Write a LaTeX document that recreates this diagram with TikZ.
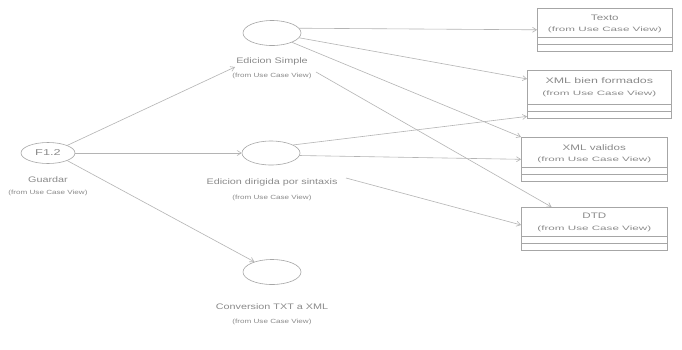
\documentclass[tikz,border=0pt]{standalone}
\usepackage{fontspec}
\setmainfont{Liberation Sans}
\usepackage{graphicx}
\usetikzlibrary{arrows.meta,shapes.geometric,calc}

% horizontally widened text, as the diagram tool prints it
\newcommand{\hstretch}[2]{\scalebox{#1}[1]{#2}}
\newcommand{\ucfromtxt}{\hstretch{1.35}{(from Use Case View)}}
\newcommand{\clsfromtxt}{\hstretch{1.85}{(from Use Case View)}}

\definecolor{ink}{HTML}{8A8A8A}
\definecolor{wire}{HTML}{B4B4B4}
\definecolor{outline}{HTML}{A6A6A6}

\begin{document}
\begin{tikzpicture}[x=1pt,y=-1pt,
  usecase/.style={ellipse,draw=outline,line width=0.6pt,inner sep=0pt,
    minimum width=58pt,minimum height=25pt},
  ucname/.style={text=ink,inner sep=0pt,font=\fontsize{8}{9}\selectfont},
  ucfrom/.style={text=ink,inner sep=0pt,font=\fontsize{6}{7}\selectfont},
  clsbox/.style={draw=outline,line width=0.6pt,anchor=north west,inner sep=0pt,
    minimum width=#1},
  clsname/.style={text=ink,inner sep=0pt,font=\fontsize{8}{9}\selectfont},
  clsfrom/.style={text=ink,inner sep=0pt,font=\fontsize{6.3}{7}\selectfont},
  compart/.style={draw=outline,line width=0.5pt},
  dep/.style={draw=wire,line width=0.6pt,
    -{Straight Barb[length=4pt,width=5pt]}}
]
\fill[white] (0,0) rectangle (682,349);
\useasboundingbox (0,0) rectangle (682,349);

% ---- use cases ----
\node[usecase,minimum width=54pt,minimum height=21pt] (f12) at (48,153)
  {\textcolor{ink}{\fontsize{8.5}{9}\selectfont\hstretch{1.5}{F1.2}}};
\node[ucname] (guardName) at (48,180) {\hstretch{1.35}{Guardar}};
\node[ucfrom] (guardFrom) at (48,193) {\ucfromtxt};

\node[usecase] (simple) at (272,33) {};
\node[ucname] (simpleName) at (272,61) {\hstretch{1.35}{Edicion Simple}};
\node[ucfrom] (simpleFrom) at (272,76) {\ucfromtxt};

\node[usecase,minimum height=24pt] (dirig) at (271,153) {};
\node[ucname] (dirigName) at (272,182) {\hstretch{1.35}{Edicion dirigida por sintaxis}};
\node[ucfrom] (dirigFrom) at (272,198) {\ucfromtxt};

\node[usecase] (conv) at (272,272) {};
\node[ucname] (convName) at (272,307) {\hstretch{1.35}{Conversion TXT a XML}};
\node[ucfrom] (convFrom) at (272,322) {\ucfromtxt};

% ---- classes ----
\node[clsbox=135pt,minimum height=43pt] (texto) at (537,8) {};
\node[clsname] (textoName) at ($(texto.north)+(0,10)$) {\hstretch{1.45}{Texto}};
\node[clsfrom] (textoFrom) at ($(texto.north)+(0,22)$) {\clsfromtxt};
\draw[compart] ($(texto.north west)+(0,29)$) -- ($(texto.north east)+(0,29)$);
\draw[compart] ($(texto.north west)+(0,36)$) -- ($(texto.north east)+(0,36)$);

\node[clsbox=144pt,minimum height=48pt] (xmlbien) at (527,70) {};
\node[clsname] (xmlbienName) at ($(xmlbien.north)+(0,11)$) {\hstretch{1.55}{XML bien formados}};
\node[clsfrom] (xmlbienFrom) at ($(xmlbien.north)+(0,24)$) {\clsfromtxt};
\draw[compart] ($(xmlbien.north west)+(0,34)$) -- ($(xmlbien.north east)+(0,34)$);
\draw[compart] ($(xmlbien.north west)+(0,41)$) -- ($(xmlbien.north east)+(0,41)$);

\node[clsbox=146pt,minimum height=44pt] (xmlval) at (521,137) {};
\node[clsname] (xmlvalName) at ($(xmlval.north)+(0,11)$) {\hstretch{1.45}{XML validos}};
\node[clsfrom] (xmlvalFrom) at ($(xmlval.north)+(0,23)$) {\clsfromtxt};
\draw[compart] ($(xmlval.north west)+(0,30)$) -- ($(xmlval.north east)+(0,30)$);
\draw[compart] ($(xmlval.north west)+(0,37)$) -- ($(xmlval.north east)+(0,37)$);

\node[clsbox=146pt,minimum height=43pt] (dtd) at (521,207) {};
\node[clsname] (dtdName) at ($(dtd.north)+(0,9)$) {\hstretch{1.45}{DTD}};
\node[clsfrom] (dtdFrom) at ($(dtd.north)+(0,22)$) {\clsfromtxt};
\draw[compart] ($(dtd.north west)+(0,29)$) -- ($(dtd.north east)+(0,29)$);
\draw[compart] ($(dtd.north west)+(0,36)$) -- ($(dtd.north east)+(0,36)$);

% ---- free connector ends next to the use case labels ----
\coordinate (simpleIn) at (235,67);
\coordinate (simpleOut) at (316,72);
\coordinate (dirigOut) at (346,178);

% ---- dependencies ----
\draw[dep] (f12.north east) -- (simpleIn);
\draw[dep] (f12.east) -- (dirig.west);
\draw[dep] (f12.south east) -- (conv.150);

\draw[dep] (simple.10) -- (texto.west);
\draw[dep] (simple.-10) -- (xmlbien.168);
\draw[dep] (simple.-25) -- (xmlval.north west);
\draw[dep] (simpleOut) -- (dtd.153);

\draw[dep] (dirig.20) -- (xmlbien.197);
\draw[dep] (dirig.-5) -- (xmlval.west);
\draw[dep] (dirigOut) -- (dtd.177);
\end{tikzpicture}
\end{document}
